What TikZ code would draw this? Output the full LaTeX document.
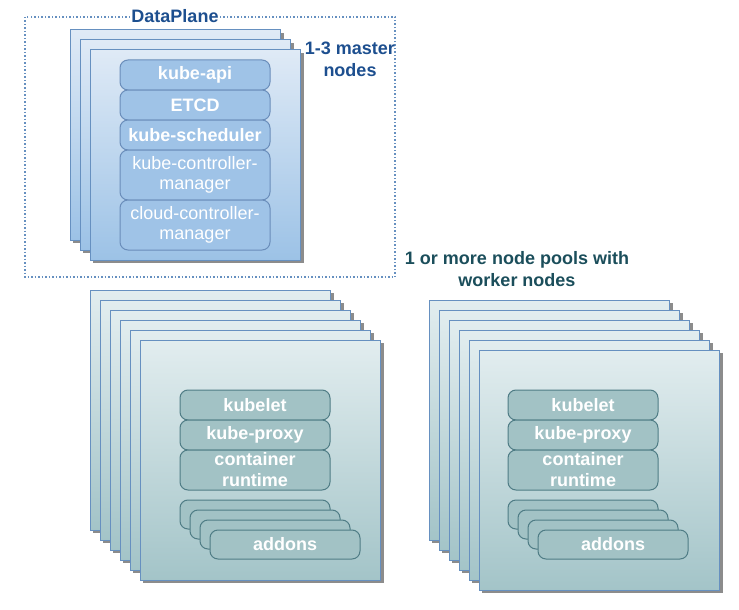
\documentclass[tikz,border=0pt]{standalone}
\usepackage{fontspec}
\setmainfont{Liberation Sans}

\begin{document}
\begin{tikzpicture}[x=1pt,y=-1pt]

    \definecolor{mastertop}{HTML}{DFEAF6}
    \definecolor{masterbottom}{HTML}{9CC2E6}
    \definecolor{masterbox}{HTML}{9FC3E7}
    \definecolor{masterline}{HTML}{6A8DBA}
    \definecolor{workertop}{HTML}{E2EDEF}
    \definecolor{workerbottom}{HTML}{A3C4C8}
    \definecolor{workerbox}{HTML}{A2C2C5}
    \definecolor{workerline}{HTML}{4F7C85}
    \definecolor{rectline}{HTML}{6690C0}
    \definecolor{bluetext}{HTML}{1D4F8F}
    \definecolor{tealtext}{HTML}{1B4E5B}

    \tikzset{
      shadowrect/.style={fill=black!45, draw=none},
      masterrect/.style={top color=mastertop, bottom color=masterbottom, draw=rectline, line width=1pt},
      workerrect/.style={top color=workertop, bottom color=workerbottom, draw=rectline, line width=1pt},
      part/.style={rectangle, rounded corners=8pt, minimum width=150pt, minimum height=30pt,
        inner sep=0pt, text=white, align=center, line width=1pt,
        font=\bfseries\fontsize{18}{21}\selectfont},
      masterpart/.style={part, fill=masterbox, draw=masterline},
      workerpart/.style={part, fill=workerbox, draw=workerline},
      heading/.style={align=center, font=\bfseries\fontsize{18}{22}\selectfont, inner sep=1pt}
    }

    \useasboundingbox (0,0) rectangle (739,610);

    % data plane frame
    \draw[rectline, dotted, line width=1.5pt] (25,17) rectangle (395,277);
    \node[heading, fill=white, text=bluetext] (dataplane) at (175,16) {DataPlane};

    % master nodes
    \foreach \i in {0,1,2} {
      \fill[shadowrect] (73+10*\i,33+10*\i) rectangle (284+10*\i,243+10*\i);
      \draw[masterrect] (70+10*\i,30+10*\i) rectangle (280+10*\i,240+10*\i);
    }
    \node[masterpart] (kubeapi) at (195,75) {kube-api};
    \node[masterpart] (etcd) at (195,105) {ETCD};
    \node[masterpart] (scheduler) at (195,135) {kube-scheduler};
    \node[masterpart, minimum height=50pt, font=\fontsize{18}{20}\selectfont] (kcm) at (195,175) {kube-controller-\\manager};
    \node[masterpart, minimum height=50pt, font=\fontsize{18}{20}\selectfont] (ccm) at (195,225) {cloud-controller-\\manager};

    \node[heading, text=bluetext] (masterlabel) at (350,59) {1-3 master\\nodes};
    \node[heading, text=tealtext] (poollabel) at (517,269) {1 or more node pools with\\worker nodes};

    % worker node pools
    \foreach \px/\py/\bx/\pool in {90/290/180/a, 429/300/508/b} {
      \foreach \i in {0,...,5} {
        \fill[shadowrect] (\px+3+10*\i,\py+3+10*\i) rectangle +(241,240);
        \draw[workerrect] (\px+10*\i,\py+10*\i) rectangle +(240,240);
      }
      \node[workerpart] (kubelet\pool) at (\bx+75,405) {kubelet};
      \node[workerpart] (proxy\pool) at (\bx+75,435) {kube-proxy};
      \node[workerpart, minimum height=40pt] (runtime\pool) at (\bx+75,470) {container\\runtime};
      \foreach \j in {0,1,2}
        \node[workerpart, minimum height=29pt] (addons\pool\j) at (\bx+75+10*\j,514.5+10*\j) {};
      \node[workerpart, minimum height=29pt] (addons\pool3) at (\bx+105,544.5) {addons};
    }

\end{tikzpicture}
\end{document}
